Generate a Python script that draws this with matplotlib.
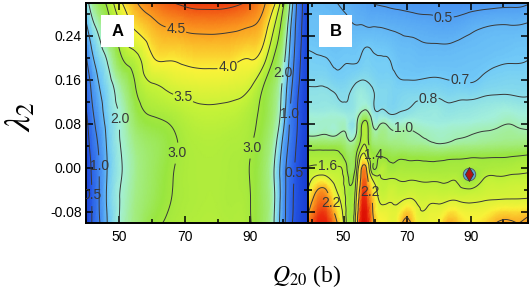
import numpy as np
import matplotlib
matplotlib.use("Agg")
import matplotlib.pyplot as plt
import matplotlib.tri as mtri
from matplotlib.colors import LinearSegmentedColormap, Normalize
from matplotlib.patches import Rectangle

plt.rcParams["font.family"] = ["Liberation Sans", "DejaVu Sans"]
plt.rcParams["mathtext.fontset"] = "stix"
plt.rcParams["axes.unicode_minus"] = False

# ---- panel A: values, one row per lam_a value (bottom -> top)
q_a = [40, 42, 44, 47, 51, 55, 60, 65, 70, 75, 80, 85, 90, 94, 97, 100, 102, 104, 106, 107.5]
lam_a = [-0.10, -0.05, 0.00, 0.05, 0.10, 0.15, 0.20, 0.25, 0.30]
z_a = [
    [0.1, 0.55, 0.95, 1.6, 2.1, 2.4, 2.85, 3.05, 3.15, 3.2, 3.2, 3.15, 3.02, 2.6, 2.05, 1.15, 0.65, 0.3, 0.12, 0.05],
    [0.1, 0.55, 1.0, 1.65, 2.05, 2.35, 2.65, 2.95, 3.1, 3.15, 3.15, 3.1, 3.0, 2.6, 2.1, 1.2, 0.7, 0.35, 0.15, 0.05],
    [0.15, 0.6, 1.0, 1.6, 2.0, 2.3, 2.6, 2.9, 3.1, 3.15, 3.15, 3.1, 2.98, 2.6, 2.05, 1.2, 0.75, 0.4, 0.15, 0.05],
    [0.25, 0.75, 1.1, 1.65, 2.05, 2.4, 2.65, 2.85, 3.1, 3.2, 3.2, 3.15, 3.05, 2.7, 2.25, 1.4, 0.9, 0.5, 0.2, 0.08],
    [0.45, 0.95, 1.3, 1.75, 2.1, 2.7, 3.05, 3.15, 3.3, 3.4, 3.4, 3.35, 3.15, 2.85, 2.45, 1.7, 1.0, 0.55, 0.25, 0.1],
    [0.65, 1.15, 1.5, 1.85, 2.35, 3.0, 3.45, 3.6, 3.7, 3.75, 3.75, 3.7, 3.55, 3.0, 2.6, 1.85, 1.2, 0.65, 0.3, 0.1],
    [0.95, 1.45, 1.75, 2.15, 3.0, 3.35, 3.95, 4.05, 4.1, 4.15, 4.15, 4.1, 4.02, 3.7, 3.0, 2.2, 1.4, 0.8, 0.35, 0.15],
    [1.35, 1.8, 2.1, 2.7, 3.5, 4.0, 4.3, 4.45, 4.52, 4.56, 4.56, 4.52, 4.45, 4.2, 3.5, 2.6, 1.6, 0.9, 0.4, 0.15],
    [1.8, 2.3, 2.7, 3.2, 4.0, 4.45, 4.75, 4.95, 5.08, 5.15, 5.15, 5.08, 4.9, 4.55, 4.15, 3.1, 2.0, 1.0, 0.45, 0.2],
]
plain_lv_a = [1.5, 5.0]
label_lv_a = [0.5, 1.0, 2.0, 3.0, 3.5, 4.0, 4.5]
label_pos_a = [(67.6, 0.258), (82.7, 0.19), (70.0, 0.135), (67.6, 0.027), (90.6, 0.036),
               (50.3, 0.089), (100.3, 0.173), (44.0, 0.004), (102.0, 0.098),
               (41.7, -0.05), (102.6, -0.009)]

# ---- panel B: one row per lam_b value (bottom -> top)
q_b = [39, 42, 45, 48, 51, 54, 56, 57.5, 59, 61, 64, 67, 70, 73, 77, 80, 83, 86, 90, 94, 98, 102, 105, 108]
lam_b = [-0.10, -0.08, -0.06, -0.04, -0.02, 0.00, 0.02, 0.04, 0.06, 0.08, 0.10, 0.13, 0.16, 0.19, 0.22, 0.26, 0.30]
z_b = [
    [2.4, 2.7, 2.65, 2.2, 1.55, 1.95, 3.0, 2.8, 2.3, 2.0, 1.92, 1.95, 2.3, 1.95, 1.9, 1.95, 2.2, 2.1, 1.98, 2.05, 2.2, 2.25, 2.2, 2.3],
    [2.2, 2.55, 2.5, 2.05, 1.55, 1.9, 2.85, 2.7, 2.25, 1.92, 1.87, 1.88, 2.1, 1.88, 1.85, 1.87, 2.0, 1.97, 1.9, 1.92, 2.02, 2.05, 2.05, 2.1],
    [2.05, 2.4, 2.33, 1.9, 1.54, 1.82, 2.7, 2.55, 2.2, 1.82, 1.78, 1.77, 1.85, 1.78, 1.77, 1.77, 1.8, 1.8, 1.78, 1.8, 1.82, 1.83, 1.83, 1.84],
    [1.85, 2.22, 2.15, 1.78, 1.52, 1.73, 2.55, 2.4, 2.05, 1.72, 1.7, 1.68, 1.68, 1.68, 1.67, 1.66, 1.66, 1.65, 1.63, 1.7, 1.72, 1.73, 1.74, 1.75],
    [1.72, 1.9, 1.85, 1.7, 1.48, 1.64, 2.4, 2.25, 1.8, 1.63, 1.6, 1.59, 1.58, 1.58, 1.57, 1.57, 1.57, 1.56, 1.4, 1.6, 1.64, 1.65, 1.66, 1.67],
    [1.62, 1.65, 1.63, 1.62, 1.41, 1.52, 2.28, 2.05, 1.45, 1.5, 1.48, 1.47, 1.47, 1.47, 1.46, 1.46, 1.47, 1.47, 1.45, 1.48, 1.5, 1.52, 1.54, 1.56],
    [1.5, 1.5, 1.5, 1.48, 1.3, 1.42, 1.9, 1.7, 1.45, 1.39, 1.36, 1.35, 1.35, 1.34, 1.33, 1.33, 1.35, 1.36, 1.38, 1.38, 1.39, 1.4, 1.42, 1.44],
    [1.3, 1.3, 1.3, 1.3, 1.15, 1.25, 1.6, 1.52, 1.25, 1.2, 1.17, 1.14, 1.12, 1.1, 1.07, 1.04, 1.06, 1.09, 1.1, 1.12, 1.14, 1.16, 1.17, 1.2],
    [0.98, 0.99, 1.0, 1.0, 0.99, 1.02, 1.5, 1.46, 1.12, 1.08, 1.06, 1.05, 1.04, 1.01, 0.97, 0.95, 0.96, 0.98, 1.0, 1.02, 1.04, 1.06, 1.05, 1.04],
    [0.93, 0.93, 0.94, 0.94, 0.92, 0.95, 1.45, 1.42, 1.02, 0.96, 0.97, 0.92, 0.96, 0.93, 0.9, 0.89, 0.9, 0.91, 0.92, 0.94, 0.96, 1.0, 0.97, 0.96],
    [0.89, 0.88, 0.89, 0.89, 0.86, 0.9, 1.05, 1.05, 0.88, 0.82, 0.8, 0.8, 0.82, 0.85, 0.86, 0.86, 0.84, 0.85, 0.86, 0.88, 0.9, 0.92, 0.9, 0.9],
    [0.83, 0.83, 0.83, 0.8, 0.79, 0.86, 0.88, 0.86, 0.82, 0.77, 0.76, 0.75, 0.77, 0.78, 0.79, 0.79, 0.77, 0.78, 0.78, 0.8, 0.81, 0.81, 0.8, 0.8],
    [0.77, 0.77, 0.76, 0.73, 0.74, 0.78, 0.8, 0.79, 0.77, 0.74, 0.74, 0.71, 0.7, 0.7, 0.71, 0.71, 0.7, 0.7, 0.69, 0.72, 0.74, 0.75, 0.75, 0.75],
    [0.73, 0.72, 0.71, 0.69, 0.7, 0.7, 0.72, 0.73, 0.72, 0.71, 0.71, 0.67, 0.66, 0.65, 0.65, 0.65, 0.65, 0.65, 0.66, 0.67, 0.69, 0.7, 0.7, 0.71],
    [0.69, 0.68, 0.67, 0.66, 0.67, 0.67, 0.69, 0.7, 0.69, 0.68, 0.67, 0.64, 0.63, 0.62, 0.61, 0.61, 0.61, 0.62, 0.63, 0.64, 0.65, 0.66, 0.67, 0.67],
    [0.65, 0.65, 0.64, 0.63, 0.62, 0.6, 0.6, 0.59, 0.59, 0.59, 0.58, 0.57, 0.56, 0.55, 0.54, 0.53, 0.53, 0.54, 0.57, 0.59, 0.6, 0.6, 0.6, 0.61],
    [0.62, 0.62, 0.61, 0.6, 0.58, 0.55, 0.53, 0.52, 0.5, 0.49, 0.48, 0.47, 0.46, 0.45, 0.45, 0.45, 0.44, 0.44, 0.44, 0.45, 0.46, 0.47, 0.47, 0.49],
]
plain_lv_b = [0.6, 1.8]
label_lv_b = [0.5, 0.7, 0.8, 1.0, 1.4, 1.6, 2.2]
label_pos_b = [(81.4, 0.28), (86.7, 0.162), (76.6, 0.126), (68.7, 0.076), (60.9, 0.034),
               (45.0, 0.007), (46.7, -0.063), (60.0, -0.042)]

# ground state marker in B
gs_q, gs_lam = [89.6], [-0.011]

cmap = LinearSegmentedColormap.from_list("surf", [
    (0.00, (0.05, 0.15, 0.75)),
    (0.12, (0.15, 0.35, 0.90)),
    (0.24, (0.30, 0.60, 0.95)),
    (0.31, (0.45, 0.80, 0.97)),
    (0.37, (0.64, 0.94, 0.86)),
    (0.43, (0.64, 0.93, 0.52)),
    (0.51, (0.60, 0.90, 0.25)),
    (0.60, (0.77, 0.95, 0.22)),
    (0.69, (0.98, 0.95, 0.22)),
    (0.79, (0.98, 0.58, 0.12)),
    (0.90, (0.92, 0.16, 0.05)),
    (1.00, (0.85, 0.03, 0.00)),
])
line_kw = dict(colors="#383838", linewidths=0.7)


def grid_tri(q, lam, z):
    z = np.asarray(z, float)
    ny, nx = z.shape
    Q, L = np.meshgrid(q, lam)
    idx = np.arange(nx * ny).reshape(ny, nx)
    a, b = idx[:-1, :-1].ravel(), idx[:-1, 1:].ravel()
    c, d = idx[1:, 1:].ravel(), idx[1:, :-1].ravel()
    tris = np.vstack([np.stack([a, b, c], 1), np.stack([a, c, d], 1)])
    # triangulate in a scaled frame so the cubic refiner sees sane shapes
    scale = 200.0
    tri = mtri.Triangulation(Q.ravel(), L.ravel() * scale, tris)
    tri_f, z_f = mtri.UniformTriRefiner(tri).refine_field(z.ravel(), subdiv=4)
    return mtri.Triangulation(tri_f.x, tri_f.y / scale, tri_f.triangles), z_f


def style_axes(ax, xlim):
    ax.set_xlim(*xlim)
    ax.set_ylim(-0.10, 0.30)
    ax.set_xticks([50, 70, 90])
    ax.set_xticks([40, 60, 80, 100], minor=True)
    ax.set_yticks([-0.08, 0.0, 0.08, 0.16, 0.24])
    ax.set_yticks([-0.04, 0.04, 0.12, 0.20, 0.28], minor=True)
    ax.tick_params(which="both", direction="in", top=True, right=True, width=1.1, labelsize=10)
    ax.tick_params(which="major", length=5, pad=5)
    ax.tick_params(which="minor", length=3)
    for s in ax.spines.values():
        s.set_linewidth(1.4)


def panel_tag(ax, x0, letter):
    ax.add_patch(Rectangle((x0, 0.80), 0.15, 0.145, transform=ax.transAxes,
                           fc="white", ec="none", zorder=6))
    ax.text(x0 + 0.075, 0.872, letter, transform=ax.transAxes, ha="center", va="center",
            fontsize=12, fontweight="bold", zorder=7)


def draw_map(ax, tri, zf, norm, plain_lv, label_lv, label_pos):
    ax.tripcolor(tri, zf, shading="gouraud", cmap=cmap, norm=norm)
    ax.tricontour(tri, zf, levels=plain_lv, **line_kw)
    cs = ax.tricontour(tri, zf, levels=label_lv, **line_kw)
    texts = ax.clabel(cs, fmt="%.1f", fontsize=10, inline=True, inline_spacing=1,
                      manual=label_pos)
    for t in texts:
        t.set_rotation(0)


fig = plt.figure(figsize=(5.32, 2.91), dpi=100)
ax_a = fig.add_axes([0.1617, 0.2337, 0.4173, 0.756])
ax_b = fig.add_axes([0.5789, 0.2337, 0.4135, 0.756])

# panel A
tri_a, zf_a = grid_tri(q_a, lam_a, z_a)
draw_map(ax_a, tri_a, zf_a, Normalize(-0.3, 5.9), plain_lv_a, label_lv_a, label_pos_a)
style_axes(ax_a, (40, 107.5))
ax_a.yaxis.set_major_formatter(plt.FormatStrFormatter("%.2f"))
ax_a.tick_params(axis="y", pad=3)
panel_tag(ax_a, 0.068, "A")

# panel B
tri_b, zf_b = grid_tri(q_b, lam_b, z_b)
draw_map(ax_b, tri_b, zf_b, Normalize(-0.333, 3.0), plain_lv_b, label_lv_b, label_pos_b)
ax_b.plot(gs_q, gs_lam, "o", ms=9, mfc="#5aa8d8", mec="#555555", mew=0.6, zorder=4)
ax_b.plot(gs_q, gs_lam, "d", ms=7, mfc="#b01515", mec="#333333", mew=0.6, zorder=5)
style_axes(ax_b, (38.8, 108))
ax_b.set_yticklabels([])
panel_tag(ax_b, 0.05, "B")

fig.text(0.038, 0.598, r"$\lambda_2$", rotation=90, ha="center", va="center", fontsize=26)
fig.text(0.576, 0.05, r"$Q_{20}$ (b)", ha="center", va="center", fontsize=17,
         family="Liberation Serif")

fig.savefig("out.png", dpi=100)
